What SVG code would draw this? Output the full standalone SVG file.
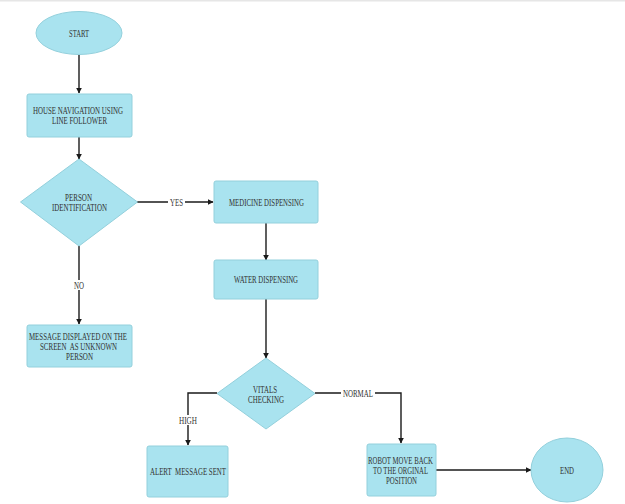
<svg xmlns="http://www.w3.org/2000/svg" width="625" height="504" viewBox="0 0 625 504">
<defs>
<style>
.s{fill:#a9e3ef;stroke:#93d0dc;stroke-width:1}
.t{font-family:"Liberation Serif","Times New Roman",serif;font-size:10px;fill:#333;text-anchor:middle;white-space:pre}
.c{fill:none;stroke:#1a1a1a;stroke-width:1.4}
.lb{fill:#fff}
</style>
<marker id="ah" viewBox="0 0 10 10" refX="9" refY="5" markerWidth="6" markerHeight="6" markerUnits="userSpaceOnUse" orient="auto">
<path d="M0,0 L10,5 L0,10 z" fill="#1a1a1a"/>
</marker>
</defs>
<rect x="0" y="0" width="625" height="504" fill="#fff"/>
<rect x="0" y="0" width="625" height="1.5" fill="#e6e6e6"/>
<g id="connectors">
<path class="c" d="M79,55 V93" marker-end="url(#ah)"/>
<path class="c" d="M79,137 V159" marker-end="url(#ah)"/>
<path class="c" d="M137,202 H213" marker-end="url(#ah)"/>
<path class="c" d="M266,223 V260" marker-end="url(#ah)"/>
<path class="c" d="M266,299 V358" marker-end="url(#ah)"/>
<path class="c" d="M79,246 V324" marker-end="url(#ah)"/>
<path class="c" d="M217,393 H188 V445" marker-end="url(#ah)"/>
<path class="c" d="M315,393 H401 V443" marker-end="url(#ah)"/>
<path class="c" d="M436,470 H531" marker-end="url(#ah)"/>
<rect class="lb" x="168" y="197" width="17" height="10"/>
<text class="t" x="176.5" y="205.5" textLength="13" lengthAdjust="spacingAndGlyphs">YES</text>
<rect class="lb" x="72" y="280" width="14" height="10"/>
<text class="t" x="79" y="288.5" textLength="10" lengthAdjust="spacingAndGlyphs">NO</text>
<rect class="lb" x="177" y="415" width="22" height="10"/>
<text class="t" x="188" y="423.5" textLength="18" lengthAdjust="spacingAndGlyphs">HIGH</text>
<rect class="lb" x="341" y="388" width="34" height="10"/>
<text class="t" x="358" y="396.5" textLength="30" lengthAdjust="spacingAndGlyphs">NORMAL</text>
</g>
<g id="start">
<ellipse class="s" cx="79" cy="33" rx="43" ry="21.5"/>
<text class="t" x="79" y="36.5" textLength="20" lengthAdjust="spacingAndGlyphs">START</text>
</g>
<g id="house-navigation">
<rect class="s" x="27" y="94" width="105" height="43" rx="2"/>
<text class="t" x="78" y="113.5" textLength="90" lengthAdjust="spacingAndGlyphs">HOUSE NAVIGATION USING</text>
<text class="t" x="79.5" y="123.5" textLength="55" lengthAdjust="spacingAndGlyphs">LINE FOLLOWER</text>
</g>
<g id="person-identification">
<polygon class="s" points="79,159 137.5,202 79,246 20.5,202"/>
<text class="t" x="78.5" y="200.5" textLength="27" lengthAdjust="spacingAndGlyphs">PERSON</text>
<text class="t" x="79.5" y="210.5" textLength="55" lengthAdjust="spacingAndGlyphs">IDENTIFICATION</text>
</g>
<g id="medicine-dispensing">
<rect class="s" x="214" y="181" width="104" height="42" rx="2"/>
<text class="t" x="266.5" y="205.5" textLength="75" lengthAdjust="spacingAndGlyphs">MEDICINE DISPENSING</text>
</g>
<g id="water-dispensing">
<rect class="s" x="214" y="260" width="104" height="39" rx="2"/>
<text class="t" x="266" y="282.5" textLength="64" lengthAdjust="spacingAndGlyphs">WATER DISPENSING</text>
</g>
<g id="unknown-person">
<rect class="s" x="27" y="325" width="105" height="42" rx="2"/>
<text class="t" x="78" y="339.5" textLength="98" lengthAdjust="spacingAndGlyphs">MESSAGE DISPLAYED ON THE</text>
<text class="t" x="78.5" y="350" textLength="77" lengthAdjust="spacingAndGlyphs" xml:space="preserve">SCREEN  AS UNKNOWN</text>
<text class="t" x="79.5" y="359.5" textLength="27" lengthAdjust="spacingAndGlyphs">PERSON</text>
</g>
<g id="vitals-checking">
<polygon class="s" points="266,358 315,393.5 266,429 217,393.5"/>
<text class="t" x="265" y="392.5" textLength="24" lengthAdjust="spacingAndGlyphs">VITALS</text>
<text class="t" x="266" y="402.5" textLength="36" lengthAdjust="spacingAndGlyphs">CHECKING</text>
</g>
<g id="alert-message">
<rect class="s" x="147" y="446" width="81" height="51" rx="2"/>
<text class="t" x="188" y="474.5" textLength="76" lengthAdjust="spacingAndGlyphs" xml:space="preserve">ALERT  MESSAGE SENT</text>
</g>
<g id="robot-move-back">
<rect class="s" x="367" y="444" width="69" height="52" rx="2"/>
<text class="t" x="400.5" y="463.5" textLength="65" lengthAdjust="spacingAndGlyphs">ROBOT MOVE BACK</text>
<text class="t" x="400.5" y="473.5" textLength="55" lengthAdjust="spacingAndGlyphs">TO THE ORGINAL</text>
<text class="t" x="401.5" y="483.5" textLength="31" lengthAdjust="spacingAndGlyphs">POSITION</text>
</g>
<g id="end">
<ellipse class="s" cx="567" cy="470" rx="36" ry="32"/>
<text class="t" x="567" y="473.5" textLength="14" lengthAdjust="spacingAndGlyphs">END</text>
</g>
</svg>
